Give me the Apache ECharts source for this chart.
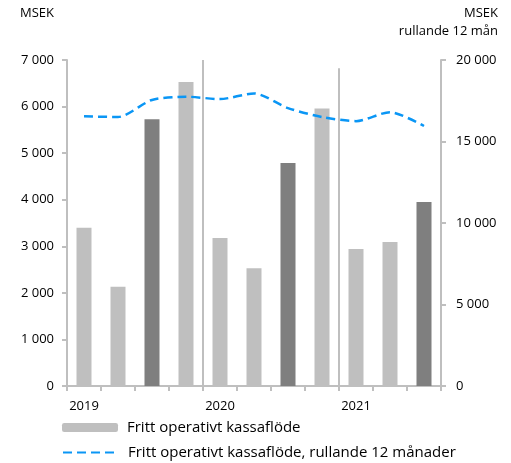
<!DOCTYPE html>
<html>
<head>
<meta charset="utf-8">
<script src="https://cdn.jsdelivr.net/npm/echarts@6/dist/echarts.min.js"></script>
<style>
  html, body { margin: 0; padding: 0; background: #fff; }
  #chart { width: 511px; height: 463px; }
</style>
</head>
<body>
<div id="chart"></div>
<script>
// quarters Q1 2019 .. Q3 2021
var quarters = ['Q1 2019', 'Q2 2019', 'Q3 2019', 'Q4 2019',
                'Q1 2020', 'Q2 2020', 'Q3 2020', 'Q4 2020',
                'Q1 2021', 'Q2 2021', 'Q3 2021'];
var yearLabels = ['2019', '', '', '', '2020', '', '', '', '2021', '', ''];
var kassaflode = [3400, 2130, 5730, 6530, 3180, 2530, 4790, 5960, 2940, 3090, 3950];
var rullande = [16550, 16500, 17550, 17750, 17600, 17950, 17050, 16500, 16250, 16800, 15950];

var fontFam = '"Open Sans", "Liberation Sans", sans-serif';
var axisGray = '#bfbfbf';
var barName = 'Fritt operativt kassaflöde';
var lineName = 'Fritt operativt kassaflöde, rullande 12 månader';

function fmt(v) {
    return String(v).replace(/\B(?=(\d{3})+(?!\d))/g, ' ');
}

var chart = echarts.init(document.getElementById('chart'));

var barData = kassaflode.map(function(v, i) {
    return {
        value: v,
        itemStyle: { color: (i % 4 === 2) ? '#7f7f7f' : '#bfbfbf' }
    };
});

var legendText = { fontSize: 15, color: '#000', fontFamily: fontFam, padding: [0, 0, 0, 4] };

var option = {
    animation: false,
    textStyle: { fontFamily: fontFam },
    grid: { left: 67, right: 70, top: 60, bottom: 77 },
    graphic: [
        { type: 'text', left: 20, top: 7, style: { text: 'MSEK', font: '13px ' + fontFam, fill: '#000' } },
        { type: 'text', right: 13, top: 7, style: { text: 'MSEK', font: '13px ' + fontFam, fill: '#000', align: 'right' } },
        { type: 'text', right: 13, top: 25, style: { text: 'rullande 12 mån', font: '13px ' + fontFam, fill: '#000', align: 'right' } }
    ],
    legend: [{
        left: 62,
        top: 420,
        padding: 0,
        itemWidth: 56,
        itemHeight: 9,
        data: [barName],
        textStyle: legendText
    }, {
        left: 62,
        top: 445,
        padding: 0,
        itemWidth: 56,
        itemHeight: 9,
        itemStyle: { opacity: 0 },
        data: [lineName],
        textStyle: legendText
    }],
    xAxis: [{
        type: 'category',
        data: yearLabels,
        boundaryGap: true,
        axisLine: { lineStyle: { color: axisGray, width: 2 } },
        axisTick: { show: true, interval: 0, length: 5, lineStyle: { color: axisGray, width: 2 } },
        axisLabel: { interval: 0, margin: 14, fontSize: 13, color: '#000' },
        splitLine: { show: false }
    }, {
        type: 'value',
        show: false,
        min: 0,
        max: 11
    }],
    yAxis: [{
        type: 'value',
        min: 0,
        max: 7000,
        interval: 1000,
        axisLine: { show: true, lineStyle: { color: axisGray, width: 2 } },
        axisTick: { show: true, length: 5, lineStyle: { color: axisGray, width: 2 } },
        axisLabel: { margin: 13, fontSize: 13, color: '#000', formatter: fmt },
        splitLine: { show: false }
    }, {
        type: 'value',
        min: 0,
        max: 20000,
        interval: 5000,
        position: 'right',
        axisLine: { show: true, lineStyle: { color: axisGray, width: 2 } },
        axisTick: { show: true, length: 5, lineStyle: { color: axisGray, width: 2 } },
        axisLabel: { margin: 15, fontSize: 13, color: '#000', formatter: fmt },
        splitLine: { show: false }
    }],
    series: [{
        name: barName,
        type: 'bar',
        barWidth: 15,
        itemStyle: { color: '#bfbfbf' },
        data: barData
    }, {
        name: lineName,
        type: 'line',
        yAxisIndex: 1,
        smooth: 0.25,
        symbol: 'none',
        lineStyle: { color: '#0a96f5', width: 2.5, type: [9, 5] },
        itemStyle: { color: '#0a96f5' },
        data: rullande
    }, {
        name: 'separators',
        type: 'line',
        xAxisIndex: 1,
        yAxisIndex: 1,
        data: [],
        markLine: {
            silent: true,
            symbol: 'none',
            label: { show: false },
            lineStyle: { color: axisGray, width: 2, type: 'solid' },
            data: [
                [{ coord: [4, 20000] }, { coord: [4, 0] }],
                [{ coord: [8, 19500] }, { coord: [8, 0] }]
            ]
        }
    }]
};

chart.setOption(option);
</script>
</body>
</html>
